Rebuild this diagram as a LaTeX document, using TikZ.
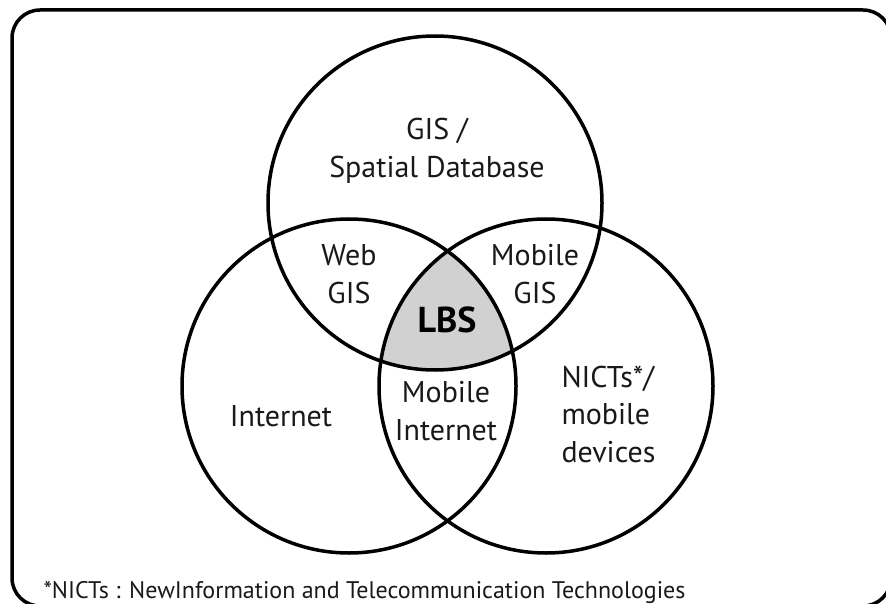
\documentclass[tikz,border=0pt]{standalone}
\usepackage{fontspec}
\setmainfont{PT Sans}

\begin{document}
\begin{tikzpicture}[x=1pt,y=-1pt,
    ring/.style={line width=3.5pt},
    vtext/.style={text=black!90, align=center, font=\fontsize{30}{37.5}\selectfont}]
    \useasboundingbox (0,0) rectangle (886,604);
    \clip (0,0) rectangle (886,604);

    \draw[line width=3.5pt, rounded corners=28pt] (12,10) rectangle (891,606); %frame runs off the right and bottom edge

    \coordinate (gis) at (435,203);
    \coordinate (net) at (349,386);
    \coordinate (mob) at (546,386);

    \begin{scope} %grey part where all three circles meet
        \clip (gis) circle (167pt);
        \clip (net) circle (167pt);
        \fill[black!18] (mob) circle (167pt);
    \end{scope}

    \draw[ring] (gis) circle (167pt);
    \draw[ring] (net) circle (167pt);
    \draw[ring] (mob) circle (167pt);

    \node[vtext] (gistext) at (437,151) {GIS /\\Spatial Database};
    \node[vtext] (webgis) at (349,274) {Web\\GIS};
    \node[vtext] (mobgis) at (535,274) {Mobile\\GIS};
    \node[text=black, font=\fontsize{36}{40}\selectfont\bfseries] (lbs) at (447,320) {LBS};
    \node[vtext] (mobnet) at (446,411) {Mobile\\Internet};
    \node[vtext] (internet) at (281,416) {Internet};
    \node[vtext, align=left, anchor=west] (nicts) at (558,414) {NICTs*/\\mobile\\devices};

    \node[text=black!90, font=\fontsize{24}{28}\selectfont, anchor=base west] (note) at (40,598) {*NICTs : NewInformation and Telecommunication Technologies};
\end{tikzpicture}
\end{document}
